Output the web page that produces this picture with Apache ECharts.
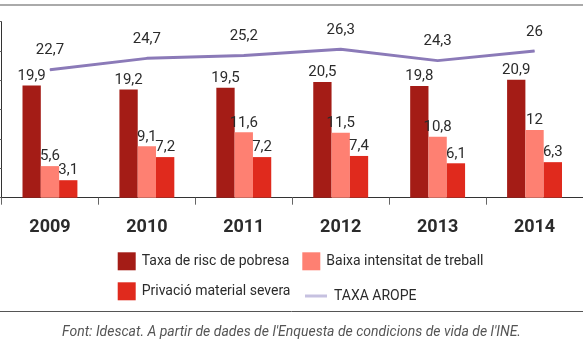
<!DOCTYPE html>
<html>
<head>
<meta charset="utf-8">
<script src="https://cdn.jsdelivr.net/npm/echarts@6/dist/echarts.min.js"></script>
<style>
html,body{margin:0;padding:0;background:#fff;}
#chart{width:583px;height:350px;}
</style>
</head>
<body>
<div id="chart"></div>
<script>
var years = ['2009', '2010', '2011', '2012', '2013', '2014'];
var taxaRisc = [19.9, 19.2, 19.5, 20.5, 19.8, 20.9];
var baixaIntensitat = [5.6, 9.1, 11.6, 11.5, 10.8, 12];
var privacio = [3.1, 7.2, 7.2, 7.4, 6.1, 6.3];
var taxaArope = [22.7, 24.7, 25.2, 26.3, 24.3, 26];
var seriesNames = ['Taxa de risc de pobresa', 'Baixa intensitat de treball', 'Privació material severa', 'TAXA AROPE'];
var footnote = "Font: Idescat. A partir de dades de l'Enquesta de condicions de vida de l'INE.";

var numFont = 'Roboto, sans-serif';
function fmt(p) { return String(p.value).replace('.', ','); }

var barLabel = {
  show: true, position: 'top', distance: 2,
  fontFamily: numFont, fontSize: 15, color: '#2b2b2b', formatter: fmt
};

var chart = echarts.init(document.getElementById('chart'), null, {renderer: 'canvas'});
chart.setOption({
  animation: false,
  backgroundColor: '#fff',
  grid: {left: 1.5, top: 21.7, width: 596, height: 176},
  xAxis: {
    type: 'category', data: years,
    axisLine: {lineStyle: {color: '#333', width: 1}},
    axisTick: {show: true, length: 7, lineStyle: {color: '#666'}, alignWithLabel: false},
    axisLabel: {margin: 21, fontFamily: 'Roboto, sans-serif', fontWeight: 'bold', fontSize: 18, color: '#2b2b2b'}
  },
  yAxis: {
    type: 'value', min: 0, max: 31.2, interval: 5.2,
    axisLine: {show: true, lineStyle: {color: '#333', width: 1}},
    axisTick: {show: true, inside: false, length: 2, lineStyle: {color: '#666'}},
    axisLabel: {show: false},
    splitLine: {show: false}
  },
  legend: [
    {
      orient: 'vertical', left: 117.7, top: 252.3, itemWidth: 18, itemHeight: 18, itemGap: 12,
      icon: 'rect', padding: 0,
      data: [seriesNames[0], seriesNames[2]],
      textStyle: {fontFamily: numFont, fontSize: 14, color: '#2b2b2b', padding: [8, 0, 0, 1]}
    },
    {
      orient: 'vertical', left: 302.3, top: 252.3, itemWidth: 18, itemHeight: 18, itemGap: 12,
      icon: 'rect', padding: 0,
      data: [seriesNames[1]],
      textStyle: {fontFamily: numFont, fontSize: 14, color: '#2b2b2b', padding: [8, 0, 0, 1]}
    },
    {
      orient: 'vertical', left: 305, top: 289, itemWidth: 22, itemHeight: 3,
      icon: 'rect', padding: 0,
      data: [{name: seriesNames[3], itemStyle: {color: '#c6c1e0'}}],
      textStyle: {fontFamily: numFont, fontSize: 14, color: '#2b2b2b', padding: [0, 0, 6, 2]}
    }
  ],
  title: {
    text: footnote, left: 'center', top: 325, padding: 0,
    textStyle: {fontFamily: numFont, fontStyle: 'italic', fontWeight: 'normal', fontSize: 14, color: '#555'}
  },
  graphic: [
    {type: 'line', shape: {x1: 0, y1: 5, x2: 583, y2: 5}, style: {stroke: '#aaa', lineWidth: 2}, silent: true},
    {type: 'line', shape: {x1: 0, y1: 311.5, x2: 583, y2: 311.5}, style: {stroke: '#555', lineWidth: 1}, silent: true}
  ],
  series: [
    {name: seriesNames[0], type: 'bar', data: taxaRisc, barWidth: 18.3, barGap: '0%', itemStyle: {color: '#a41c16'}, label: barLabel},
    {name: seriesNames[1], type: 'bar', data: baixaIntensitat, barWidth: 18.3, barGap: '0%', itemStyle: {color: '#fe8072'}, label: barLabel},
    {name: seriesNames[2], type: 'bar', data: privacio, barWidth: 18.3, barGap: '0%', itemStyle: {color: '#e02a1d'}, label: barLabel},
    {
      name: seriesNames[3], type: 'line', data: taxaArope,
      symbol: 'circle', symbolSize: 1, showSymbol: true,
      lineStyle: {color: '#8b7ab8', width: 3}, itemStyle: {color: '#8b7ab8'},
      label: {show: true, position: 'top', distance: 11, fontFamily: numFont, fontSize: 15, color: '#2b2b2b', formatter: fmt},
      z: 5
    }
  ]
});
</script>
</body>
</html>
